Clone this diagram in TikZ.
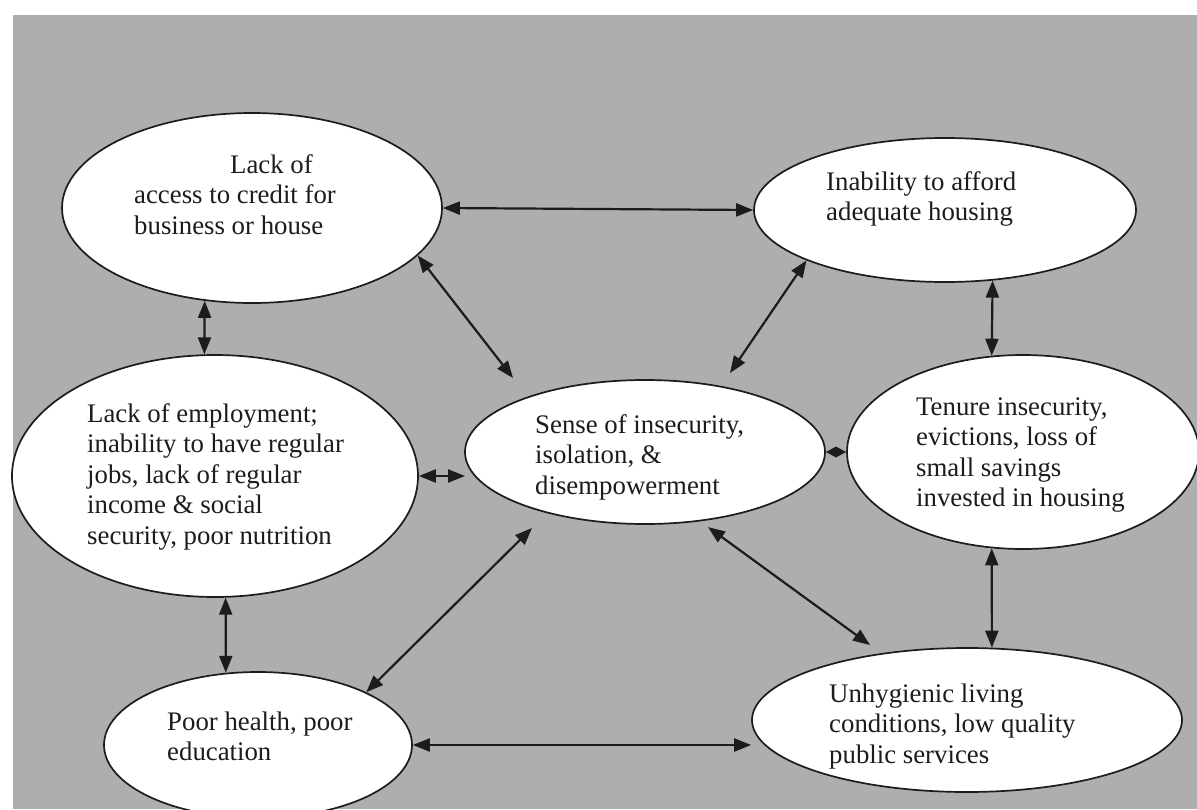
\documentclass[tikz,border=0pt]{standalone}
\usepackage{fontspec}
\setmainfont{Liberation Serif}
\usetikzlibrary{shapes.geometric,arrows.meta}
\definecolor{bg}{RGB}{174,174,174}
\definecolor{ink}{RGB}{28,28,28}
\begin{document}
\begin{tikzpicture}[x=1pt,y=-1pt,
  oval/.style={ellipse, draw=ink, line width=1.7pt, fill=white, inner sep=0pt},
  txt/.style={anchor=base west, inner sep=0pt, text=ink, font=\fontsize{26.8}{30.5}\selectfont},
  link/.style={{Triangle[length=17pt,width=13pt]}-{Triangle[length=17pt,width=13pt]}, line width=2.2pt, draw=ink},
  smalllink/.style={{Triangle[length=10pt,width=10pt]}-{Triangle[length=10pt,width=10pt]}, line width=2.2pt, draw=ink}
]
\useasboundingbox (0,0) rectangle (1197,809);
\fill[white] (0,0) rectangle (1197,809);
\fill[bg] (13,15) rectangle (1197,809);

\node[oval, minimum width=380pt, minimum height=190pt] (credit) at (252,208) {};
\node[oval, minimum width=382pt, minimum height=144pt] (afford) at (945,210) {};
\node[oval, minimum width=406pt, minimum height=242pt] (employ) at (215,476) {};
\node[oval, minimum width=360pt, minimum height=144pt] (sense) at (645,452) {};
\node[oval, minimum width=352pt, minimum height=194pt] (tenure) at (1023,452) {};
\node[oval, minimum width=308pt, minimum height=146pt] (health) at (258,745) {};
\node[oval, minimum width=430pt, minimum height=144pt] (unhyg) at (967,720) {};

\node[txt] (creditT) at (134,173) {\begin{tabular}[t]{@{}l@{}}\hspace*{96pt}Lack of\\access to credit for\\business or house\end{tabular}};
\node[txt] (affordT) at (826,190) {\begin{tabular}[t]{@{}l@{}}Inability to afford\\adequate housing\end{tabular}};
\node[txt] (employT) at (87,422) {\begin{tabular}[t]{@{}l@{}}Lack of employment;\\inability to have regular\\jobs, lack of regular\\income \& social\\security, poor nutrition\end{tabular}};
\node[txt] (senseT) at (535,433) {\begin{tabular}[t]{@{}l@{}}Sense of insecurity,\\isolation, \&\\disempowerment\end{tabular}};
\node[txt] (tenureT) at (916,415) {\begin{tabular}[t]{@{}l@{}}Tenure insecurity,\\evictions, loss of\\small savings\\invested in housing\end{tabular}};
\node[txt] (healthT) at (167,730) {\begin{tabular}[t]{@{}l@{}}Poor health, poor\\education\end{tabular}};
\node[txt] (unhygT) at (829,702) {\begin{tabular}[t]{@{}l@{}}Unhygienic living\\conditions, low quality\\public services\end{tabular}};

\coordinate (s1) at (513,378);
\coordinate (s2) at (730,373);
\coordinate (s3) at (465,476);
\coordinate (s4) at (532,528);
\coordinate (s5) at (708,527);
\coordinate (u1) at (870,645);

\draw[link] (credit.east) -- (afford.west);
\draw[link] (credit.-16) -- (s1);
\draw[link] (afford.-160) -- (s2);
\draw[link] (credit.-117) -- (employ.95);
\draw[link] (afford.-56) -- (tenure.108);
\draw[link] (employ.east) -- (s3);
\draw[smalllink] (sense.east) -- (tenure.west);
\draw[link] (employ.-85) -- (health.114);
\draw[link] (s4) -- (health.26);
\draw[link] (s5) -- (u1);
\draw[link] (tenure.-108) -- (unhyg.71);
\draw[link] (health.east) -- (health.east -| unhyg.west);
\end{tikzpicture}
\end{document}
